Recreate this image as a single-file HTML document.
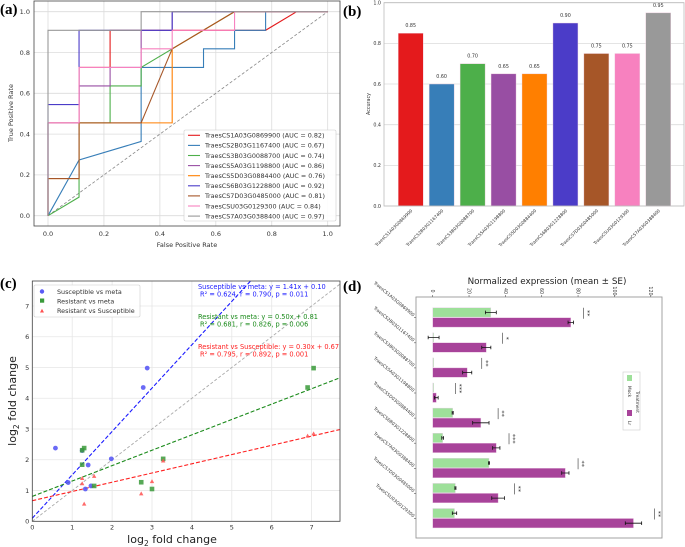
<!DOCTYPE html>
<html><head><meta charset="utf-8"><style>
html,body{margin:0;padding:0;background:#fff;}
svg{display:block;font-family:"DejaVu Sans","Liberation Sans",sans-serif;}
.ser{font-family:"Liberation Serif",serif;font-weight:bold;}
</style></head><body>
<svg id="fig" width="685" height="547" viewBox="0 0 685 547" xmlns="http://www.w3.org/2000/svg">
<g id="pa"></g>
<g id="pb"></g>
<g id="pc"></g>
<g id="pd"></g>
<text class="ser" x="0" y="14" font-size="15">(a)</text>
<text class="ser" x="343" y="16" font-size="15">(b)</text>
<text class="ser" x="0" y="288" font-size="15">(c)</text>
<text class="ser" x="343" y="291" font-size="15">(d)</text>
</svg>
<script>
const NS="http://www.w3.org/2000/svg";
function mk(p,t,a,txt){const e=document.createElementNS(NS,t);for(const k in a)e.setAttribute(k,a[k]);if(txt!==undefined)e.textContent=txt;p.appendChild(e);return e;}

// ---------- Panel (a) data ----------
const rocNames=["TraesCS1A03G0869900","TraesCS2B03G1167400","TraesCS3B03G0088700","TraesCS5A03G1198800","TraesCS5D03G0884400","TraesCS6B03G1228800","TraesCS7D03G0485000","TraesCSU03G0129300","TraesCS7A03G0388400"];
const rocAuc=[0.82,0.67,0.74,0.86,0.76,0.92,0.81,0.84,0.97];
const rocColors=["#e41a1c","#377eb8","#4daf4a","#984ea3","#ff7f00","#4b3cc8","#a65628","#f781bf","#999999"];
const rocFpr=[
[0,0,0.111,0.111,0.222,0.222,0.778,0.889,1],
[0,0.111,0.333,0.333,0.556,0.556,0.667,0.667,0.778,0.778,1],
[0,0.111,0.111,0.222,0.222,0.333,0.333,0.667,1],
[0,0,0.111,0.111,0.222,0.222,0.333,0.333,0.444,0.444,1],
[0,0,0.111,0.111,0.444,0.444,0.667,1],
[0,0,0.111,0.111,0.444,0.444,1],
[0,0,0.111,0.111,0.333,0.444,0.667,1],
[0,0,0.111,0.111,0.333,0.333,0.444,0.444,0.667,0.667,1],
[0,0,0.333,0.333,1]];
const rocTpr=[
[0,0.455,0.455,0.727,0.727,0.909,0.909,1,1],
[0,0.273,0.364,0.727,0.727,0.818,0.818,0.909,0.909,1,1],
[0,0.091,0.455,0.455,0.636,0.636,0.727,1,1],
[0,0.455,0.455,0.636,0.636,0.727,0.727,0.909,0.909,1,1],
[0,0.182,0.182,0.455,0.455,0.818,1,1],
[0,0.545,0.545,0.909,0.909,1,1],
[0,0.182,0.182,0.455,0.455,0.818,1,1],
[0,0.455,0.455,0.727,0.727,0.818,0.818,0.909,0.909,1,1],
[0,0.909,0.909,1,1]];
const rocTicks=[0,0.2,0.4,0.6,0.8,1.0];
(function(){
const g=document.getElementById('pa');
const X=v=>48+v*279.7, Y=v=>215.7-v*204;
const L=34,R=340,T=1,B=226;
rocTicks.forEach(t=>{
 mk(g,'line',{x1:X(t),x2:X(t),y1:T,y2:B,stroke:'#dcdcdc','stroke-width':0.8});
 mk(g,'line',{x1:L,x2:R,y1:Y(t),y2:Y(t),stroke:'#dcdcdc','stroke-width':0.8});
 const a=mk(g,'text',{x:X(t),y:236,'font-size':6.5,'text-anchor':'middle',fill:'#333'},t.toFixed(1));
 
 const b=mk(g,'text',{x:30,y:Y(t)+2.3,'font-size':6.5,'text-anchor':'end',fill:'#333'},t.toFixed(1));
 
});
const d=mk(g,'line',{x1:X(0),y1:Y(0),x2:X(1),y2:Y(1),stroke:'#888','stroke-dasharray':'3,2','stroke-width':0.8});

rocFpr.forEach((f,i)=>{
 const pts=f.map((v,j)=>X(v)+','+Y(rocTpr[i][j])).join(' ');
 const p=mk(g,'polyline',{points:pts,fill:'none',stroke:rocColors[i],'stroke-width':1.1});
 
});
mk(g,'rect',{x:L,y:T,width:R-L,height:B-T,fill:'none',stroke:'#444','stroke-width':0.8});
const xl=mk(g,'text',{x:187,y:247,'font-size':6.5,'text-anchor':'middle',fill:'#333'},'False Positive Rate');

const yl=mk(g,'text',{x:0,y:0,'font-size':6.5,'text-anchor':'middle',fill:'#333',transform:'translate(13,113) rotate(-90)'},'True Positive Rate');

const lg=mk(g,'g',{});
mk(lg,'rect',{x:184,y:130,width:152,height:91,fill:'#fff','fill-opacity':0.9,stroke:'#ccc','stroke-width':0.6,rx:1.5});
rocNames.forEach((n,i)=>{
 const y=135.3+i*10.1;
 mk(lg,'line',{x1:188,x2:200,y1:y,y2:y,stroke:rocColors[i],'stroke-width':1.1});
 const t=mk(lg,'text',{x:205,y:y+2.3,'font-size':6.4,fill:'#333'},n+' (AUC = '+rocAuc[i].toFixed(2)+')');
 
});
})();

// ---------- Panel (b) data ----------
const accNames=["TraesCS1A03G0869900","TraesCS2B03G1167400","TraesCS3B03G0088700","TraesCS5A03G1198800","TraesCS5D03G0884400","TraesCS6B03G1228800","TraesCS7D03G0485000","TraesCSU03G0129300","TraesCS7A03G0388400"];
const accValues=[0.85,0.60,0.70,0.65,0.65,0.90,0.75,0.75,0.95];
const accTicks=[0,0.2,0.4,0.6,0.8,1.0];
(function(){
const g=document.getElementById('pb');
const L=384,R=684,T=2.7,B=206;
const Y=v=>B-v*(B-T), X=i=>410.7+i*30.95;
accTicks.forEach(t=>{
 mk(g,'line',{x1:L,x2:R,y1:Y(t),y2:Y(t),stroke:'#dcdcdc','stroke-width':0.8});
 const a=mk(g,'text',{x:L-3,y:Y(t)+1.8,'font-size':4.8,'text-anchor':'end',fill:'#333'},t.toFixed(1));
 
});
accValues.forEach((v,i)=>{
 const r=mk(g,'rect',{x:X(i)-12.5,y:Y(v),width:25,height:B-Y(v),fill:rocColors[i],stroke:'#f0d0e0','stroke-width':0.4});
 
 const t=mk(g,'text',{x:X(i),y:Y(v)-6,'font-size':4.8,'text-anchor':'middle',fill:'#333'},v.toFixed(2));
 
 const n=mk(g,'text',{x:0,y:0,'font-size':4.3,'text-anchor':'end',fill:'#333',transform:'translate('+(X(i)+2)+',211) rotate(-45)'},accNames[i]);
 
});
mk(g,'rect',{x:L,y:T,width:R-L,height:B-T,fill:'none',stroke:'#bbb','stroke-width':0.8});
const yl=mk(g,'text',{x:0,y:0,'font-size':4.8,'text-anchor':'middle',fill:'#333',transform:'translate(370,104) rotate(-90)'},'Accuracy');

})();

// ---------- Panel (c) data ----------
const suscX=[0.58,0.9,1.25,1.4,1.47,1.33,1.98,2.78,2.88];
const suscY=[2.38,1.26,2.3,1.83,1.15,1.05,2.03,4.35,4.98];
const resX=[1.25,1.25,1.3,1.55,2.73,3.0,3.28,6.9,7.05];
const resY=[1.84,2.31,2.38,1.15,1.27,1.05,2.03,4.35,4.98];
const rvsX=[1.25,1.25,1.3,1.55,2.73,3.0,3.28,6.9,7.05];
const rvsY=[1.4,1.23,0.57,1.47,0.9,1.3,1.97,2.78,2.85];
const fitSlope=[1.41,0.50,0.30];
const fitIntercept=[0.10,0.81,0.67];
const fcTicks=[0,1,2,3,4,5,6,7];
(function(){
const g=document.getElementById('pc');
const L=32.3,R=340,T=281,B=521.3;
const X=v=>L+v*39.9, Y=v=>B-v*30.76;
const xmax=(R-L)/39.9, ymax=(B-T)/30.76;
mk(g,'defs',{}).innerHTML='<clipPath id="cc"><rect x="'+L+'" y="'+T+'" width="'+(R-L)+'" height="'+(B-T)+'"/></clipPath>';
fcTicks.forEach(t=>{
 mk(g,'line',{x1:X(t),x2:X(t),y1:T,y2:B,stroke:'#e6e6e6','stroke-width':0.8});
 mk(g,'line',{x1:L,x2:R,y1:Y(t),y2:Y(t),stroke:'#e6e6e6','stroke-width':0.8});
 const a=mk(g,'text',{x:X(t),y:B+8,'font-size':6.5,'text-anchor':'middle',fill:'#333'},t);
 
 const b=mk(g,'text',{x:L-3,y:Y(t)+2.3,'font-size':6.5,'text-anchor':'end',fill:'#333'},t);
 
});
const cg=mk(g,'g',{'clip-path':'url(#cc)'});
const gl=mk(cg,'line',{x1:X(0),y1:Y(0),x2:X(8),y2:Y(8),stroke:'#aaa','stroke-dasharray':'3,2','stroke-width':0.9});

const fc=['#1a1aff','#1a8a1a','#ff2020'];
fitSlope.forEach((s,i)=>{
 const l=mk(cg,'line',{x1:X(0),y1:Y(fitIntercept[i]),x2:X(xmax),y2:Y(fitIntercept[i]+s*xmax),stroke:fc[i],'stroke-dasharray':'4,2','stroke-width':1.1});
 
});
suscX.forEach((v,i)=>{const c=mk(cg,'circle',{cx:X(v),cy:Y(suscY[i]),r:2.4,fill:'#5a5af5','fill-opacity':0.9});});
resX.forEach((v,i)=>{const c=mk(cg,'rect',{x:X(v)-2.3,y:Y(resY[i])-2.3,width:4.6,height:4.6,fill:'#3a9a3a','fill-opacity':0.85});});
rvsX.forEach((v,i)=>{const x=X(v),y=Y(rvsY[i]);const c=mk(cg,'polygon',{points:(x-2.2)+','+(y+1.8)+' '+(x+2.2)+','+(y+1.8)+' '+x+','+(y-2.2),fill:'#ff5050','fill-opacity':0.85});});
mk(g,'rect',{x:L,y:T,width:R-L,height:B-T,fill:'none',stroke:'#444','stroke-width':0.8});
const ann=[['Susceptible vs meta: y = 1.41x + 0.10','R² = 0.624, r = 0.790, p = 0.011',289],['Resistant vs meta: y = 0.50x + 0.81','R² = 0.681, r = 0.826, p = 0.006',319],['Resistant vs Susceptible: y = 0.30x + 0.67','R² = 0.795, r = 0.892, p = 0.001',349]];
ann.forEach((a,i)=>{
 const t1=mk(g,'text',{x:198,y:a[2],'font-size':6.6,fill:fc[i]},a[0]);
 const t2=mk(g,'text',{x:200,y:a[2]+7.5,'font-size':6.6,fill:fc[i]},a[1]);
});
const lg=mk(g,'g',{});
mk(lg,'rect',{x:34,y:285,width:106,height:32,fill:'#fff','fill-opacity':0.9,stroke:'#ccc','stroke-width':0.6,rx:1.5});
mk(lg,'circle',{cx:42,cy:291.5,r:2.2,fill:'#5a5af5'});
mk(lg,'rect',{x:40,y:298.5,width:4.2,height:4.2,fill:'#3a9a3a'});
mk(lg,'polygon',{points:'40,312.5 44,312.5 42,308.7',fill:'#ff5050'});
['Susceptible vs meta','Resistant vs meta','Resistant vs Susceptible'].forEach((s,i)=>{
 const t=mk(lg,'text',{x:57,y:293.8+i*9.7,'font-size':6.4,fill:'#333'},s);
});
const xl=mk(g,'text',{x:172,y:543,'font-size':11,'text-anchor':'middle',fill:'#222'});
xl.innerHTML='log<tspan font-size="7.5" dy="3">2</tspan><tspan dy="-3"> fold change</tspan>';

const yl=mk(g,'text',{x:0,y:0,'font-size':11,'text-anchor':'middle',fill:'#222',transform:'translate(16,401) rotate(-90)'});
yl.innerHTML='log<tspan font-size="7.5" dy="3">2</tspan><tspan dy="-3"> fold change</tspan>';

})();

// ---------- Panel (d) data ----------
const exprGenes=["TraesCS1A03G0869900","TraesCS2B03G1167400","TraesCS3B03G0088700","TraesCS5A03G1198800","TraesCS5D03G0884400","TraesCS6B03G1228800","TraesCS7A03G0388400","TraesCS7D03G0485000","TraesCSU03G0129300"];
const mockMean=[32,0.5,0.5,0.5,11,5.5,31,12.5,12];
const mockSE=[3,3,0.2,0.2,0.3,0.5,0.3,0.3,1.2];
const lrMean=[76,29.5,19,2,26.5,35,73,36,110.5];
const lrSE=[1.5,2.5,2.5,1,4.5,2,2,3.5,4.5];
const sigLabels=["**","*","**","***","**","***","**","**","**"];
const sigPos=[83,38.5,27,12.5,36,42,80,45,122];
const exprTicks=[0,20,40,60,80,100,120];
(function(){
const g=document.getElementById('pd');
const L=416,R=662,T=297,B=538;
const V=v=>432.7+v*1.817, C=i=>322.7+i*25.1;
mk(g,'rect',{x:L,y:T,width:R-L,height:B-T,fill:'none',stroke:'#999','stroke-width':0.9});
exprTicks.forEach(t=>{
 mk(g,'line',{x1:V(t),x2:V(t),y1:T,y2:T-2,stroke:'#555','stroke-width':0.6});
 const a=mk(g,'text',{x:0,y:0,'font-size':4.8,'text-anchor':'middle',fill:'#333',transform:'translate('+(V(t)-1.5)+',291) rotate(90)'},t);
 
});
const ti=mk(g,'text',{x:547,y:284,'font-size':8.8,'text-anchor':'middle',fill:'#222'},'Normalized expression (mean ± SE)');

exprGenes.forEach((n,i)=>{
 const c=C(i);
 const m=mk(g,'rect',{x:V(0),y:c-15,width:Math.max(V(mockMean[i])-V(0),0.6),height:9.4,fill:'#9ee09a',stroke:'#e8d0e8','stroke-width':0.4});
 
 const p=mk(g,'rect',{x:V(0),y:c-5,width:V(lrMean[i])-V(0),height:9.4,fill:'#a8439a',stroke:'#e8c0e0','stroke-width':0.4});
 
 [[mockMean[i],mockSE[i],c-10.3],[lrMean[i],lrSE[i],c-0.3]].forEach(e=>{
  if(e[1]<0.25)return;
  const eb=mk(g,'path',{d:'M'+V(e[0]-e[1])+' '+e[2]+'H'+V(e[0]+e[1])+'M'+V(e[0]-e[1])+' '+(e[2]-1.8)+'v3.6M'+V(e[0]+e[1])+' '+(e[2]-1.8)+'v3.6',stroke:'#111','stroke-width':0.8,fill:'none'});
  
 });
 const sx=V(sigPos[i]);
 const sl=mk(g,'line',{x1:sx,x2:sx,y1:c-15,y2:c-4,stroke:'#333','stroke-width':0.6});
 
 const st=mk(g,'text',{x:0,y:0,'font-size':6.5,'text-anchor':'middle',fill:'#222',transform:'translate('+(sx+2)+','+(c-9.5)+') rotate(90)'},sigLabels[i]);
 
 mk(g,'line',{x1:L,x2:L-2,y1:c-5,y2:c-5,stroke:'#555','stroke-width':0.6});
 const nl=mk(g,'text',{x:0,y:0,'font-size':4.4,'text-anchor':'end',fill:'#333',transform:'translate(413,'+(c-6)+') rotate(40)'},n);
 
});
const lg=mk(g,'g',{});
mk(lg,'rect',{x:623,y:372,width:17,height:58,fill:'#fff',stroke:'#ccc','stroke-width':0.6});
mk(lg,'rect',{x:627,y:375,width:5,height:6,fill:'#9ee09a'});
mk(lg,'rect',{x:627,y:410,width:5,height:6,fill:'#a8439a'});
const t0=mk(lg,'text',{x:0,y:0,'font-size':4.3,'text-anchor':'middle',fill:'#333',transform:'translate(636,402) rotate(90)'},'Treatment');

const t1=mk(lg,'text',{x:0,y:0,'font-size':4.3,fill:'#333',transform:'translate(628,386) rotate(90)'},'Mock');

const t2=mk(lg,'text',{x:0,y:0,'font-size':4.3,fill:'#333',transform:'translate(628,421) rotate(90)'},'Lr');

})();
</script>
</body></html>
